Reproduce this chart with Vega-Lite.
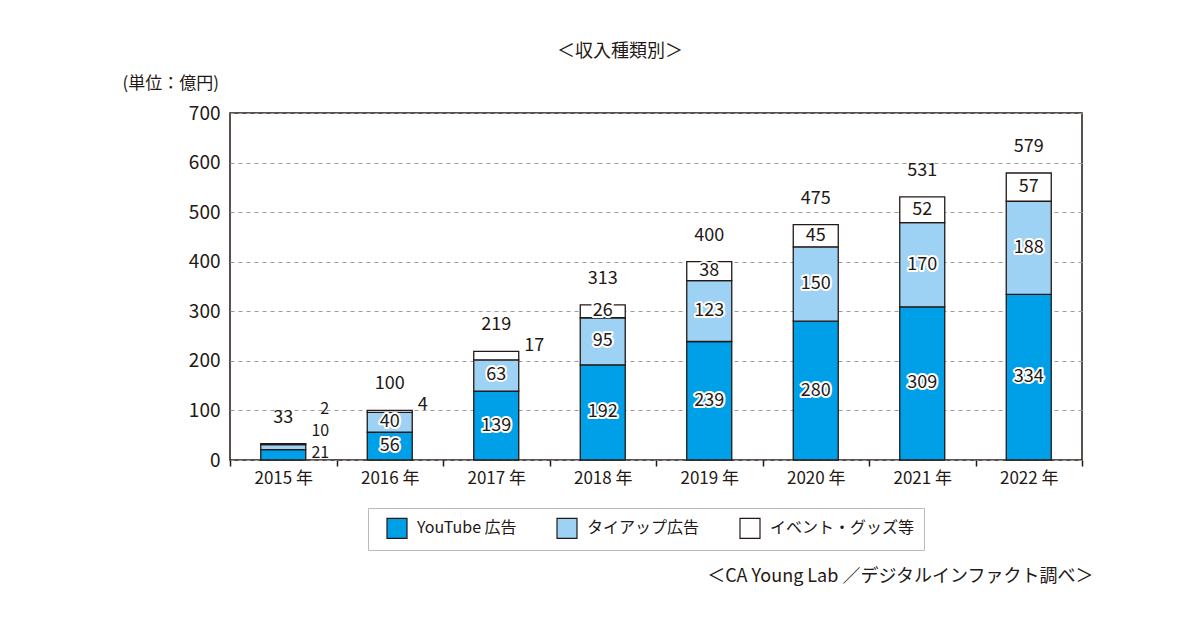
{
  "$schema": "https://vega.github.io/schema/vega-lite/v6.json",
  "width": 852,
  "height": 347,
  "autosize": {"type": "none"},
  "padding": {"left": 230, "top": 113, "right": 118, "bottom": 170},
  "background": "white",
  "title": {"text": "＜収入種類別＞", "fontSize": 18, "font": "Noto Sans CJK JP", "fontWeight": "normal", "anchor": "middle", "dx": -36, "offset": 13, "color": "#231815"},
  "config": {
    "view": {"stroke": "#231815", "strokeWidth": 1.5},
    "font": "Noto Sans CJK JP",
    "axis": {"labelFont": "Noto Sans CJK JP", "titleFont": "Noto Sans CJK JP", "labelColor": "#231815", "titleColor": "#231815", "titleFontWeight": "normal"},
    "legend": {"labelFont": "Noto Sans CJK JP"}
  },
  "data": {"values": [
    {"year": "2015 年", "type": "YouTube 広告", "k": 1, "value": 21},
    {"year": "2015 年", "type": "タイアップ広告", "k": 2, "value": 10},
    {"year": "2015 年", "type": "イベント・グッズ等", "k": 3, "value": 2},
    {"year": "2016 年", "type": "YouTube 広告", "k": 1, "value": 56},
    {"year": "2016 年", "type": "タイアップ広告", "k": 2, "value": 40},
    {"year": "2016 年", "type": "イベント・グッズ等", "k": 3, "value": 4},
    {"year": "2017 年", "type": "YouTube 広告", "k": 1, "value": 139},
    {"year": "2017 年", "type": "タイアップ広告", "k": 2, "value": 63},
    {"year": "2017 年", "type": "イベント・グッズ等", "k": 3, "value": 17},
    {"year": "2018 年", "type": "YouTube 広告", "k": 1, "value": 192},
    {"year": "2018 年", "type": "タイアップ広告", "k": 2, "value": 95},
    {"year": "2018 年", "type": "イベント・グッズ等", "k": 3, "value": 26},
    {"year": "2019 年", "type": "YouTube 広告", "k": 1, "value": 239},
    {"year": "2019 年", "type": "タイアップ広告", "k": 2, "value": 123},
    {"year": "2019 年", "type": "イベント・グッズ等", "k": 3, "value": 38},
    {"year": "2020 年", "type": "YouTube 広告", "k": 1, "value": 280},
    {"year": "2020 年", "type": "タイアップ広告", "k": 2, "value": 150},
    {"year": "2020 年", "type": "イベント・グッズ等", "k": 3, "value": 45},
    {"year": "2021 年", "type": "YouTube 広告", "k": 1, "value": 309},
    {"year": "2021 年", "type": "タイアップ広告", "k": 2, "value": 170},
    {"year": "2021 年", "type": "イベント・グッズ等", "k": 3, "value": 52},
    {"year": "2022 年", "type": "YouTube 広告", "k": 1, "value": 334},
    {"year": "2022 年", "type": "タイアップ広告", "k": 2, "value": 188},
    {"year": "2022 年", "type": "イベント・グッズ等", "k": 3, "value": 57}
  ]},
  "transform": [
    {"stack": "value", "groupby": ["year"], "sort": [{"field": "k", "order": "ascending"}], "as": ["v0", "v1"]},
    {"calculate": "(datum.v0 + datum.v1) / 2", "as": "mid"}
  ],
  "encoding": {
    "x": {"field": "year", "type": "nominal", "sort": null,
      "scale": {"paddingInner": 0, "paddingOuter": 0},
      "axis": {"title": "＜CA Young Lab ／デジタルインファクト調べ＞", "titleFontSize": 18, "titleX": 863, "titleY": 116, "titleAlign": "right", "titleBaseline": "middle", "titleAnchor": null,
        "labelAngle": 0, "labelFontSize": 17, "labelPadding": 4, "domain": false, "ticks": true, "tickBand": "extent", "tickSize": 6, "tickColor": "#231815", "tickWidth": 1.5, "grid": false}}
  },
  "layer": [
    {
      "mark": {"type": "bar", "width": {"band": 0.4225}, "stroke": "#231815", "strokeWidth": 1.3},
      "encoding": {
        "y": {"field": "v1", "type": "quantitative", "scale": {"domain": [0, 700], "nice": false},
          "axis": {"title": "(単位：億円)", "titleFontSize": 17, "titleAngle": 0, "titleX": -108, "titleY": -30, "titleAlign": "left", "titleBaseline": "middle",
            "values": [0, 100, 200, 300, 400, 500, 600, 700], "labelFontSize": 19, "labelPadding": 10, "ticks": false, "domain": false,
            "grid": true, "gridDash": [4, 4], "gridColor": "#9a9a9a", "gridWidth": 1}},
        "y2": {"field": "v0"},
        "color": {"field": "type", "type": "nominal",
          "scale": {"domain": ["YouTube 広告", "タイアップ広告", "イベント・グッズ等"], "range": ["#00a0e9", "#9ed2f4", "#ffffff"]},
          "legend": {"orient": "none", "legendX": 138, "legendY": 395, "direction": "horizontal", "title": null,
            "symbolType": "square", "symbolSize": 400, "symbolStrokeColor": "#231815", "symbolStrokeWidth": 1.2, "symbolOffset": 9,
            "labelFontSize": 16, "labelOffset": 9, "labelColor": "#231815", "columnPadding": 30, "padding": 9,
            "strokeColor": "#bbbbbb", "fillColor": "white"}}
      }
    },
    {
      "transform": [{"filter": "datum.year != '2015 年' && datum.value >= 20"}],
      "mark": {"type": "text", "fontSize": 18, "stroke": "white", "strokeWidth": 4, "strokeJoin": "round", "fill": "#231815", "baseline": "middle"},
      "encoding": {"y": {"field": "mid", "type": "quantitative"}, "text": {"field": "value"}}
    },
    {
      "transform": [{"filter": "datum.year != '2015 年' && datum.value >= 20"}],
      "mark": {"type": "text", "fontSize": 18, "fill": "#231815", "baseline": "middle"},
      "encoding": {"y": {"field": "mid", "type": "quantitative"}, "text": {"field": "value"}}
    },
    {
      "mark": {"type": "text", "fontSize": 18, "fill": "#231815", "baseline": "middle", "dy": -26},
      "encoding": {"y": {"aggregate": "sum", "field": "value", "type": "quantitative"}, "text": {"aggregate": "sum", "field": "value"}}
    },
    {
      "transform": [{"filter": "datum.year != '2015 年' && datum.value < 20"}],
      "mark": {"type": "text", "fontSize": 18, "fill": "#231815", "baseline": "middle", "align": "left", "dx": 28, "dy": -5},
      "encoding": {"y": {"field": "v1", "type": "quantitative"}, "text": {"field": "value"}}
    },
    {
      "transform": [{"filter": "datum.year == '2015 年' && datum.k == 1"}],
      "mark": {"type": "text", "fontSize": 16, "fill": "#231815", "baseline": "middle", "align": "right", "dx": 46, "dy": 3},
      "encoding": {"y": {"field": "v1", "type": "quantitative"}, "text": {"field": "value"}}
    },
    {
      "transform": [{"filter": "datum.year == '2015 年' && datum.k == 2"}],
      "mark": {"type": "text", "fontSize": 16, "fill": "#231815", "baseline": "middle", "align": "right", "dx": 46, "dy": -14},
      "encoding": {"y": {"field": "v1", "type": "quantitative"}, "text": {"field": "value"}}
    },
    {
      "transform": [{"filter": "datum.year == '2015 年' && datum.k == 3"}],
      "mark": {"type": "text", "fontSize": 16, "fill": "#231815", "baseline": "middle", "align": "right", "dx": 46, "dy": -35},
      "encoding": {"y": {"field": "v1", "type": "quantitative"}, "text": {"field": "value"}}
    }
  ]
}
